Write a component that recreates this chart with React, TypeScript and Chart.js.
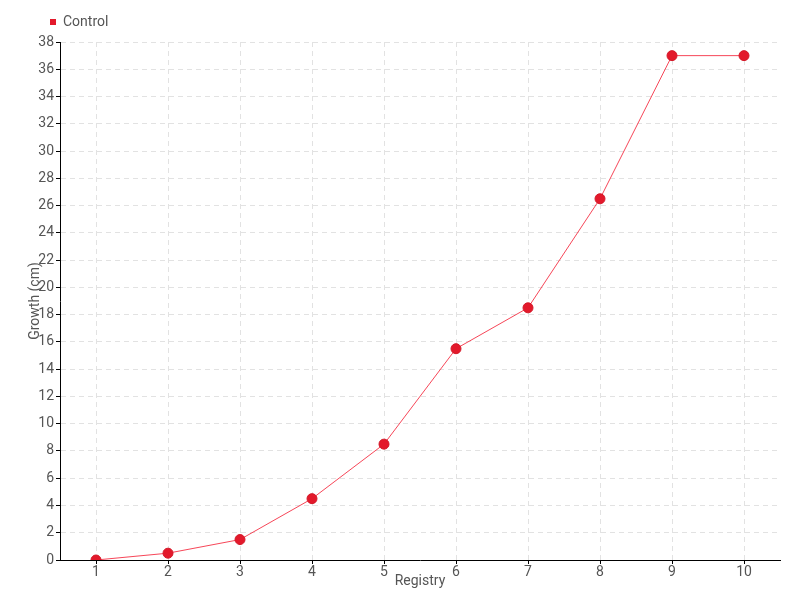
import React, { useEffect, useRef } from "react";
import { Chart, registerables } from "chart.js";

Chart.register(...registerables);

const categories = ["1", "2", "3", "4", "5", "6", "7", "8", "9", "10"];
const controlValues = [0, 0.5, 1.5, 4.5, 8.5, 15.5, 18.5, 26.5, 37, 37];
const seriesName = "Control";
const xTitle = "Registry";
const yTitle = "Growth (cm)";

const FONT = "Roboto, sans-serif";
const TEXT = "#555";

export default function App() {
  const ref = useRef<HTMLCanvasElement | null>(null);
  useEffect(() => {
    if (!ref.current) return;
    const chart = new Chart(ref.current, {
      type: "line",
      data: {
        labels: categories,
        datasets: [
          {
            label: seriesName,
            data: controlValues,
            borderColor: "rgba(245,50,70,0.9)",
            backgroundColor: "#e3192b",
            borderWidth: 1,
            pointRadius: 5,
            pointBackgroundColor: "#e3192b",
            pointBorderColor: "#d41828",
            pointBorderWidth: 1,
            tension: 0,
          },
        ],
      },
      options: {
        responsive: false,
        animation: false,
        layout: { padding: { left: 0, right: 20, top: 10, bottom: 0 } },
        plugins: {
          legend: {
            position: "top",
            align: "start",
            labels: {
              boxWidth: 6,
              boxHeight: 6,
              padding: 8,
              color: TEXT,
              font: { family: FONT, size: 14 },
              generateLabels: () => [
                {
                  text: seriesName,
                  fillStyle: "#e3192b",
                  strokeStyle: "#e3192b",
                  fontColor: TEXT,
                  lineWidth: 0,
                  hidden: false,
                  datasetIndex: 0,
                },
              ],
            },
          },
          tooltip: { enabled: false },
        },
        scales: {
          x: {
            offset: true,
            grid: {
              offset: false,
              color: "#e2e2e2",
              tickColor: "#000",
              tickLength: 4,
            },
            border: { color: "#000", dash: [5, 4] },
            ticks: { color: TEXT, font: { family: FONT, size: 14 }, padding: 0 },
            title: {
              display: true,
              text: xTitle,
              color: TEXT,
              font: { family: FONT, size: 14 },
              padding: { top: 0, bottom: 10 },
            },
            afterFit: (s: any) => {
              s.height = 40;
            },
          },
          y: {
            min: 0,
            max: 38,
            ticks: {
              stepSize: 2,
              color: TEXT,
              font: { family: FONT, size: 14 },
              padding: 2,
            },
            grid: { color: "#e2e2e2", tickColor: "#000", tickLength: 4 },
            border: { color: "#000", dash: [5, 4] },
            title: {
              display: true,
              text: yTitle,
              color: TEXT,
              font: { family: FONT, size: 14 },
              padding: { top: 27, bottom: 0 },
            },
            afterFit: (s: any) => {
              s.width = 60;
            },
          },
        },
      },
      plugins: [
        {
          id: "legendShift",
          afterLayout(c: any) {
            if (c.legend) {
              c.legend.left = 42;
              c.legend.top = c.legend.top - 3;
            }
          },
        },
      ],
    });
    return () => chart.destroy();
  }, []);
  return (
    <div style={{ position: "fixed", left: 0, top: 0, width: 800, height: 600, background: "#fff" }}>
      <canvas ref={ref} width={800} height={600} />
    </div>
  );
}
